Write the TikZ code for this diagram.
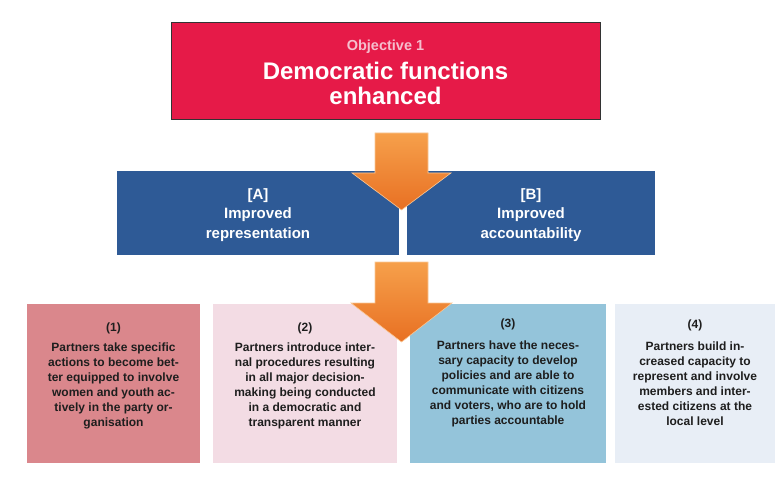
\documentclass[tikz,border=0pt]{standalone}
\usepackage{fontspec}
\setmainfont{Liberation Sans}
\definecolor{objred}{RGB}{230,26,72}
\definecolor{objpink}{RGB}{245,190,205}
\definecolor{resblue}{RGB}{46,90,150}
\definecolor{boxrose}{RGB}{218,135,140}
\definecolor{boxpink}{RGB}{243,220,228}
\definecolor{boxblue}{RGB}{148,196,218}
\definecolor{boxgrey}{RGB}{232,238,246}
\definecolor{arrtop}{RGB}{246,160,75}
\definecolor{arrbot}{RGB}{232,112,35}
\definecolor{arredge}{RGB}{250,200,150}
\definecolor{txtdark}{RGB}{30,30,30}
\tikzset{
  objbox/.style={rectangle, fill=objred, draw=black!80, line width=1pt, minimum width=429pt, minimum height=97pt, inner sep=0pt},
  objtext/.style={align=center, text=white, inner sep=0pt, font=\fontsize{24}{25}\selectfont\bfseries},
  resbox/.style={rectangle, fill=resblue, minimum height=84pt, inner sep=0pt, text=white, align=center,
    font=\fontsize{15}{19.5}\selectfont\bfseries},
  outbox/.style={rectangle, minimum height=159pt, inner sep=0pt},
  outtext/.style={align=center, text=txtdark, inner sep=0pt, font=\fontsize{12}{15}\selectfont\bfseries},
  bigarrow/.style={top color=arrtop, bottom color=arrbot, draw=arredge, line width=0.6pt, line join=miter}
}
\begin{document}
\begin{tikzpicture}[x=1pt,y=-1pt]
\useasboundingbox (0,0) rectangle (780,484);
\fill[white] (0,0) rectangle (780,484);
% objective
\node[objbox] (obj) at (385.5,71.5) {};
\node[objtext] (objtxt) at (385.5,72.5) {{\fontsize{14.5}{15}\selectfont\color{objpink}Objective 1}\\[4pt]Democratic functions\\enhanced};
% results
\node[resbox, minimum width=282pt] (ra) at (258,213) {};
\node[resbox, minimum width=248pt] (rb) at (531,213) {};
\node[resbox, fill=none] (rat) at (258,215) {[A]\\Improved\\representation};
\node[resbox, fill=none] (rbt) at (531,215) {[B]\\Improved\\accountability};
% outputs
\node[outbox, fill=boxrose, minimum width=173pt] (o1) at (113.5,383.5) {};
\node[outbox, fill=boxpink, minimum width=184pt] (o2) at (305,383.5) {};
\node[outbox, fill=boxblue, minimum width=196pt] (o3) at (508,383.5) {};
\node[outbox, fill=boxgrey, minimum width=160pt] (o4) at (695,383.5) {};
\node[outtext] (t1) at (o1.center) [yshift=8pt] {(1)\\[5pt]Partners take specific\\actions to become bet-\\ter equipped to involve\\women and youth ac-\\tively in the party or-\\ganisation};
\node[outtext] (t2) at (o2.center) [yshift=8pt] {(2)\\[5pt]Partners introduce inter-\\nal procedures resulting\\in all major decision-\\making being conducted\\in a democratic and\\transparent manner};
\node[outtext] (t3) at (o3.center) [yshift=11pt] {(3)\\[7pt]Partners have the neces-\\sary capacity to develop\\policies and are able to\\communicate with citizens\\and voters, who are to hold\\parties accountable};
\node[outtext] (t4) at (o4.center) [yshift=11pt] {(4)\\[7pt]Partners build in-\\creased capacity to\\represent and involve\\members and inter-\\ested citizens at the\\local level};
% arrows
\coordinate (a1s) at (401.5,133);
\coordinate (a1t) at (401.5,210);
\coordinate (a2s) at (401.5,262);
\coordinate (a2t) at (401.5,342);
\draw[bigarrow] ([xshift=-26.5pt]a1s) -- ([xshift=26.5pt]a1s) -- ([xshift=26.5pt]a1s |- 0,173) -- ([xshift=49.5pt]a1s |- 0,173) -- (a1t) -- ([xshift=-49.5pt]a1s |- 0,173) -- ([xshift=-26.5pt]a1s |- 0,173) -- cycle;
\draw[bigarrow] ([xshift=-26.5pt]a2s) -- ([xshift=26.5pt]a2s) -- ([xshift=26.5pt]a2s |- 0,303) -- ([xshift=50.5pt]a2s |- 0,303) -- (a2t) -- ([xshift=-50.5pt]a2s |- 0,303) -- ([xshift=-26.5pt]a2s |- 0,303) -- cycle;
\end{tikzpicture}
\end{document}
